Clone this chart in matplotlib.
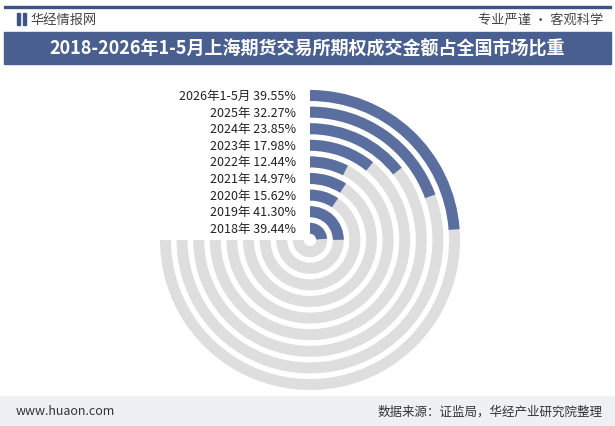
import matplotlib
matplotlib.use("Agg")
import matplotlib.pyplot as plt
from matplotlib.patches import Wedge, Rectangle

plt.rcParams['font.family'] = ['Noto Sans CJK SC', 'DejaVu Sans']

labels = ["2026年1-5月", "2025年", "2024年", "2023年", "2022年", "2021年", "2020年", "2019年", "2018年"]
values = [39.55, 32.27, 23.85, 17.98, 12.44, 14.97, 15.62, 41.30, 39.44]
scale_max = 124.4  # value at which a ring closes the 270-degree track

W, H = 615, 427
fig = plt.figure(figsize=(W/100, H/100), dpi=100)
ax = fig.add_axes([0, 0, 1, 1])
ax.set_xlim(0, W); ax.set_ylim(0, H); ax.axis('off')

# header
ax.add_patch(Rectangle((4, H-9), W-8, 2, color='#3d5585'))
ax.text(30, H-20, "华经情报网", fontsize=9.5, color='#444', va='center')
ax.add_patch(Rectangle((17, H-26), 3, 12, color='#3d5585'))
ax.add_patch(Rectangle((23, H-26), 3, 12, color='#3d5585'))
ax.text(W-12, H-20, "专业严谨 • 客观科学", fontsize=9.5, color='#444', va='center', ha='right')
ax.add_patch(Rectangle((4, H-65), W-8, 32, color='#485f8f'))
ax.text(W/2, H-49, "2018-2026年1-5月上海期货交易所期权成交金额占全国市场比重",
        fontsize=13, color='white', fontweight='bold', ha='center', va='center')
# footer
ax.add_patch(Rectangle((0, 0), W, 30, color='#eef0f4'))
ax.text(16, 15, "www.huaon.com", fontsize=9, color='#333', va='center')
ax.text(W-12, 15, "数据来源：证监局，华经产业研究院整理", fontsize=9, color='#333', va='center', ha='right')

cx, cy = 310, 186
r_out = 150
step = 16.6
thick = 11
for i, (lab, v) in enumerate(zip(labels, values)):
    r = r_out - i*step
    ax.add_patch(Wedge((cx, cy), r, 180, 450, width=thick, color='#dedede', lw=0))
    ax.add_patch(Wedge((cx, cy), r, 90 - v/scale_max*270, 90, width=thick, color='#5a6f9f', lw=0))
    ax.text(cx - 14, cy + r - thick/2, f"{lab} {v:.2f}%", fontsize=9, color='#222',
            ha='right', va='center')

fig.savefig("out.png", dpi=100)
